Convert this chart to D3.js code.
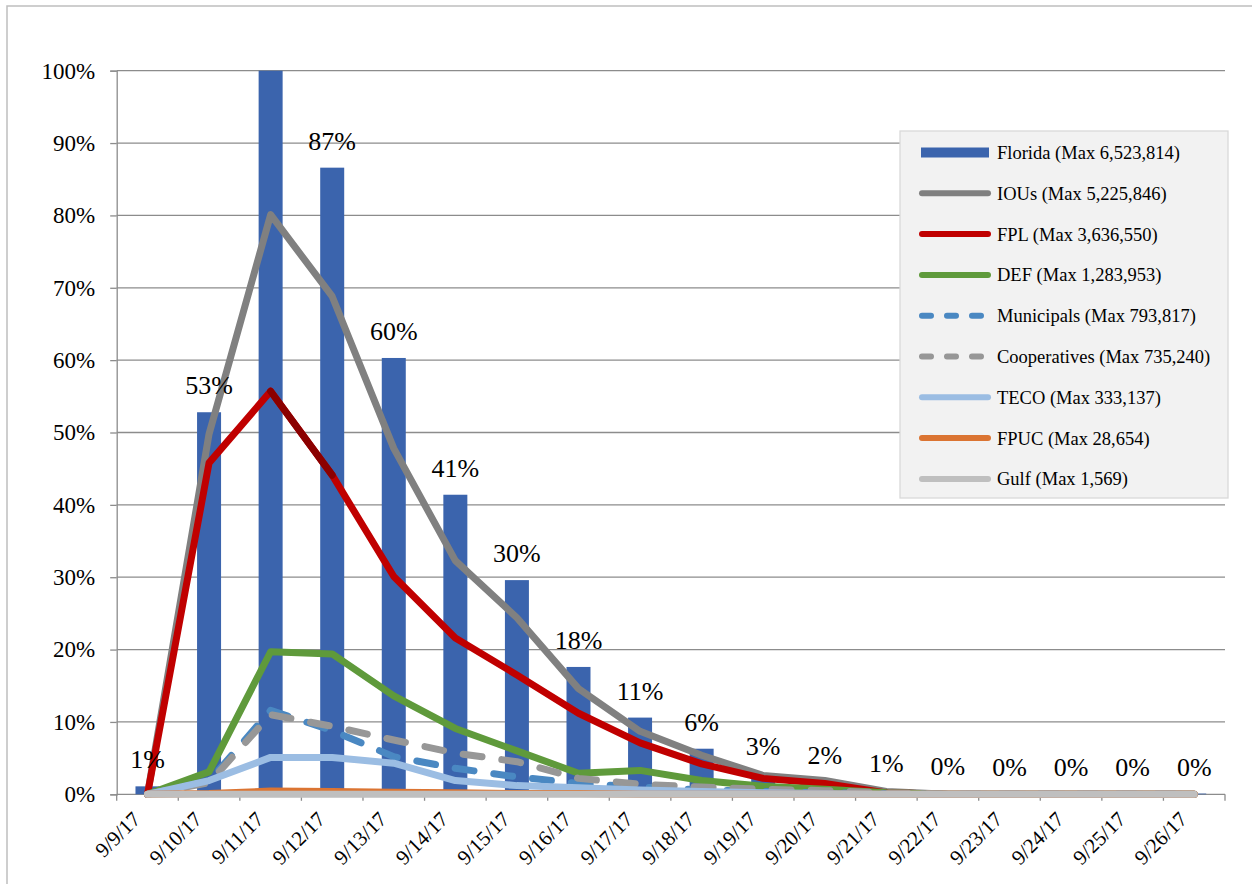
<!DOCTYPE html>
<html>
<head>
<meta charset="utf-8">
<script src="https://cdn.jsdelivr.net/npm/d3@7"></script>
<style>
  html, body { margin: 0; padding: 0; background: #ffffff; }
  svg { display: block; }
  svg text { font-family: "Liberation Serif", "Times New Roman", serif; }
</style>
</head>
<body>
<svg id="chart" width="1252" height="884"></svg>
<script>
// Daily outages as a share of the statewide peak (percent)
const dates = ["9/9/17","9/10/17","9/11/17","9/12/17","9/13/17","9/14/17","9/15/17","9/16/17","9/17/17",
               "9/18/17","9/19/17","9/20/17","9/21/17","9/22/17","9/23/17","9/24/17","9/25/17","9/26/17"];

const florida      = [1.1, 52.8, 100, 86.6, 60.3, 41.4, 29.6, 17.6, 10.6, 6.3, 2.9, 1.7, 0.6, 0.2, 0.1, 0.1, 0.1, 0.1];
const ious         = [0, 49.8, 80.1, 68.8, 47.8, 32.3, 24.4, 14.6, 8.7, 5.4, 2.6, 1.9, 0.4, 0, 0, 0, 0, 0];
const fpl          = [0, 45.8, 55.7, 44.1, 30.1, 21.6, 16.5, 11.2, 7.1, 4.2, 2.2, 1.5, 0.2, 0, 0, 0, 0, 0];
const def          = [0, 3.1, 19.7, 19.4, 13.6, 9.1, 6.0, 2.9, 3.3, 1.9, 1.1, 0.7, 0.2, 0, 0, 0, 0, 0];
const municipals   = [0, 1.8, 11.6, 8.8, 5.2, 3.6, 2.4, 1.5, 1.0, 0.6, 0.4, 0.2, 0.1, 0, 0, 0, 0, 0];
const cooperatives = [0, 1.6, 11.0, 9.4, 7.5, 5.7, 4.5, 2.2, 1.4, 1.0, 0.7, 0.5, 0.2, 0, 0, 0, 0, 0];
const teco         = [0, 1.9, 5.1, 5.1, 4.3, 1.9, 1.2, 0.9, 0.6, 0.4, 0.2, 0.1, 0, 0, 0, 0, 0, 0];
const fpuc         = [0, 0.1, 0.44, 0.4, 0.3, 0.2, 0.1, 0.1, 0, 0, 0, 0, 0, 0, 0, 0, 0, 0];
const gulf         = [0, 0, 0.02, 0.02, 0, 0, 0, 0, 0, 0, 0, 0, 0, 0, 0, 0, 0, 0];

const yTicks = [0, 10, 20, 30, 40, 50, 60, 70, 80, 90, 100];

// FPL segment drawn in a darker shade
const fplDarkSpan = ["9/11/17", "9/12/17"];

const barName = "Florida (Max 6,523,814)";
const lineSeries = [
  { name: "IOUs (Max 5,225,846)",         values: ious,         color: "#808080", dash: false },
  { name: "FPL (Max 3,636,550)",          values: fpl,          color: "#C00000", dash: false },
  { name: "DEF (Max 1,283,953)",          values: def,          color: "#5F9A3B", dash: false },
  { name: "Municipals (Max 793,817)",     values: municipals,   color: "#4A88C2", dash: true },
  { name: "Cooperatives (Max 735,240)",   values: cooperatives, color: "#979797", dash: true },
  { name: "TECO (Max 333,137)",           values: teco,         color: "#9BBDE3", dash: false },
  { name: "FPUC (Max 28,654)",            values: fpuc,         color: "#DB7432", dash: false },
  { name: "Gulf (Max 1,569)",             values: gulf,         color: "#BFBFBF", dash: false }
];

const svg = d3.select("#chart");
const W = 1252, H = 884;
const plot = { left: 116.7, right: 1225, top: 70.7, bottom: 794.3 };

// outer chart frame
svg.append("rect")
  .attr("x", 7).attr("y", 6).attr("width", W + 20).attr("height", H + 20)
  .attr("fill", "#fff").attr("stroke", "#BEBEBE").attr("stroke-width", 1.5);

const x = d3.scaleBand().domain(dates).range([plot.left, plot.right]).paddingInner(0).paddingOuter(0);
const y = d3.scaleLinear().domain([0, 100]).range([plot.bottom, plot.top]);
const cx = d => x(d) + x.bandwidth() / 2;

// horizontal gridlines
svg.append("g")
  .selectAll("line").data(yTicks.filter(t => t > 0)).join("line")
  .attr("x1", plot.left).attr("x2", plot.right)
  .attr("y1", d => y(d)).attr("y2", d => y(d))
  .attr("stroke", "#8C8C8C").attr("stroke-width", 1.3);

// y axis
const yAxis = svg.append("g")
  .attr("transform", `translate(${plot.left},0)`)
  .call(d3.axisLeft(y).tickValues(yTicks).tickFormat(d => d + "%").tickSize(6.5).tickPadding(15));
yAxis.select(".domain").attr("stroke", "#8C8C8C").attr("stroke-width", 1.3);
yAxis.selectAll(".tick line").attr("stroke", "#8C8C8C").attr("stroke-width", 1.3);
yAxis.selectAll(".tick text")
  .attr("font-family", "Liberation Serif, Times New Roman, serif")
  .attr("font-size", 23).attr("fill", "#000");

// x axis with ticks between categories
const xAxisG = svg.append("g").attr("transform", `translate(0,${plot.bottom})`);
xAxisG.append("line")
  .attr("x1", plot.left).attr("x2", plot.right)
  .attr("stroke", "#8C8C8C").attr("stroke-width", 1.3);
const boundaries = dates.map(d => x(d)).concat([x(dates[dates.length - 1]) + x.bandwidth()]);
xAxisG.selectAll("line.tk").data(boundaries).join("line").attr("class", "tk")
  .attr("x1", d => d).attr("x2", d => d).attr("y1", 0).attr("y2", 6.5)
  .attr("stroke", "#8C8C8C").attr("stroke-width", 1.3);
xAxisG.selectAll("text").data(dates).join("text")
  .attr("transform", d => `translate(${cx(d) - 11},${21}) rotate(-45)`)
  .attr("text-anchor", "end").attr("dy", "0.35em")
  .attr("font-size", 21).attr("fill", "#000")
  .text(d => d);

// Florida bars
const barW = 24;
svg.append("g").selectAll("rect").data(dates).join("rect")
  .attr("x", d => cx(d) - barW / 2)
  .attr("width", barW)
  .attr("y", (d, i) => y(florida[i]))
  .attr("height", (d, i) => y(0) - y(florida[i]))
  .attr("fill", "#3B64AD");

// utility lines
const lineGen = vals => d3.line()
  .x((d, i) => cx(dates[i]))
  .y(d => y(d))(vals);

const linesG = svg.append("g");
lineSeries.forEach(s => {
  linesG.append("path")
    .attr("d", lineGen(s.values))
    .attr("fill", "none")
    .attr("stroke", s.color)
    .attr("stroke-width", 7)
    .attr("stroke-linejoin", "round")
    .attr("stroke-linecap", "round")
    .attr("stroke-dasharray", s.dash ? "19,20" : null);
  if (s.name.startsWith("FPL")) {
    const i0 = dates.indexOf(fplDarkSpan[0]), i1 = dates.indexOf(fplDarkSpan[1]);
    linesG.append("line")
      .attr("x1", cx(dates[i0])).attr("y1", y(fpl[i0]))
      .attr("x2", cx(dates[i1])).attr("y2", y(fpl[i1]))
      .attr("stroke", "#8B0000").attr("stroke-width", 7).attr("stroke-linecap", "round");
  }
});

// bar value labels (the 100% peak carries none)
svg.append("g").selectAll("text").data(dates.map((d, i) => ({ d, v: florida[i] })).filter(o => o.v < 100))
  .join("text")
  .attr("x", o => cx(o.d))
  .attr("y", o => y(o.v) - 18)
  .attr("text-anchor", "middle")
  .attr("font-size", 26).attr("fill", "#000")
  .text(o => Math.round(o.v) + "%");

// legend
const lg = svg.append("g");
lg.append("rect")
  .attr("x", 900).attr("y", 131).attr("width", 328).attr("height", 367)
  .attr("fill", "#F2F2F2").attr("stroke", "#D9D9D9").attr("stroke-width", 1.3);
const rowY = i => 152.5 + i * 40.8;
lg.append("rect").attr("x", 921).attr("y", rowY(0) - 5).attr("width", 68).attr("height", 10).attr("fill", "#3B64AD");
lg.append("text").attr("x", 997).attr("y", rowY(0)).attr("dy", "0.35em")
  .attr("font-size", 18.5).attr("fill", "#000").text(barName);
lineSeries.forEach((s, k) => {
  const yy = rowY(k + 1);
  lg.append("line")
    .attr("x1", 922).attr("x2", 988).attr("y1", yy).attr("y2", yy)
    .attr("stroke", s.color).attr("stroke-width", 6).attr("stroke-linecap", "round")
    .attr("stroke-dasharray", s.dash ? "9,16" : null);
  lg.append("text").attr("x", 997).attr("y", yy).attr("dy", "0.35em")
    .attr("font-size", 18.5).attr("fill", "#000").text(s.name);
});
</script>
</body>
</html>
